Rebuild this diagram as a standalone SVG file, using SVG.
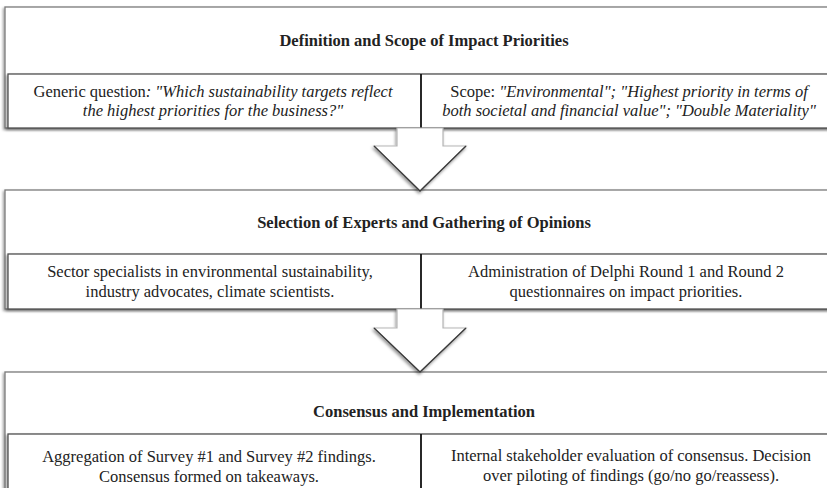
<svg xmlns="http://www.w3.org/2000/svg" width="827" height="488" viewBox="0 0 827 488">
<defs>
<filter id="sh" x="-5%" y="-20%" width="110%" height="140%">
<feDropShadow dx="-1.5" dy="1.5" stdDeviation="1.2" flood-color="#000" flood-opacity="0.35"/>
</filter>
<filter id="ash" x="-20%" y="-20%" width="140%" height="140%">
<feDropShadow dx="-1" dy="2" stdDeviation="1.5" flood-color="#000" flood-opacity="0.4"/>
</filter>
<style>
.outer{fill:#fff;stroke:#7a7a7a;stroke-width:1.3}
.row{fill:#fff;stroke:#505050;stroke-width:1.3}
.div{stroke:#111;stroke-width:1.8}
.t{font-family:"Liberation Serif","Times New Roman",serif;font-size:16.5px;fill:#222;text-anchor:middle}
.b{font-weight:bold}
.i{font-style:italic}
.arr{fill:#fff;stroke:#b5b5b5;stroke-width:1.2}
.head{fill:none;stroke:#3a3a3a;stroke-width:1.3}
</style>
</defs>
<rect width="827" height="488" fill="#fff"/>

<g id="stage1">
<rect class="outer" x="5" y="7" width="845" height="121" filter="url(#sh)"/>
<text class="t b" x="424" y="46">Definition and Scope of Impact Priorities</text>
<g id="stage1-left">
<rect class="row" x="8" y="74" width="842" height="54" filter="url(#sh)"/>
<text class="t" x="213" y="97">Generic question<tspan class="i">: "Which sustainability targets reflect</tspan></text>
<text class="t i" x="213" y="116">the highest priorities for the business?"</text>
</g>
<g id="stage1-right">
<line class="div" x1="421" y1="74" x2="421" y2="128"/>
<text class="t" x="629" y="97">Scope: <tspan class="i">"Environmental"; "Highest priority in terms of</tspan></text>
<text class="t i" x="629" y="116">both societal and financial value"; "Double Materiality"</text>
</g>
</g>

<g id="stage2">
<rect class="outer" x="5" y="190" width="845" height="119" filter="url(#sh)"/>
<text class="t b" x="424" y="228">Selection of Experts and Gathering of Opinions</text>
<g id="stage2-left">
<rect class="row" x="8" y="254" width="842" height="55" filter="url(#sh)"/>
<text class="t" x="210" y="277">Sector specialists in environmental sustainability,</text>
<text class="t" x="210" y="297">industry advocates, climate scientists.</text>
</g>
<g id="stage2-right">
<line class="div" x1="421" y1="254" x2="421" y2="309"/>
<text class="t" x="626" y="277">Administration of Delphi Round 1 and Round 2</text>
<text class="t" x="626" y="297">questionnaires on impact priorities.</text>
</g>
</g>

<g id="stage3">
<rect class="outer" x="5" y="372" width="845" height="130" filter="url(#sh)"/>
<text class="t b" x="424" y="417">Consensus and Implementation</text>
<g id="stage3-left">
<rect class="row" x="8" y="434" width="842" height="70" filter="url(#sh)"/>
<text class="t" x="209" y="461.5">Aggregation of Survey #1 and Survey #2 findings.</text>
<text class="t" x="209" y="481.5">Consensus formed on takeaways.</text>
</g>
<g id="stage3-right">
<line class="div" x1="421" y1="434" x2="421" y2="488"/>
<text class="t" x="631" y="461">Internal stakeholder evaluation of consensus. Decision</text>
<text class="t" x="631" y="481">over piloting of findings (go/no go/reassess).</text>
</g>
</g>

<g id="connectors">
<g id="arrow1" filter="url(#ash)">
<polygon class="arr" points="397,128 397,146 374,146 420,191 466,146 443,146 443,128"/>
<polyline class="head" points="374,146 420,191 466,146"/>
</g>
<g id="arrow2" filter="url(#ash)">
<polygon class="arr" points="397,309 397,328 374,328 420,372 466,328 443,328 443,309"/>
<polyline class="head" points="374,328 420,372 466,328"/>
</g>
</g>
</svg>
